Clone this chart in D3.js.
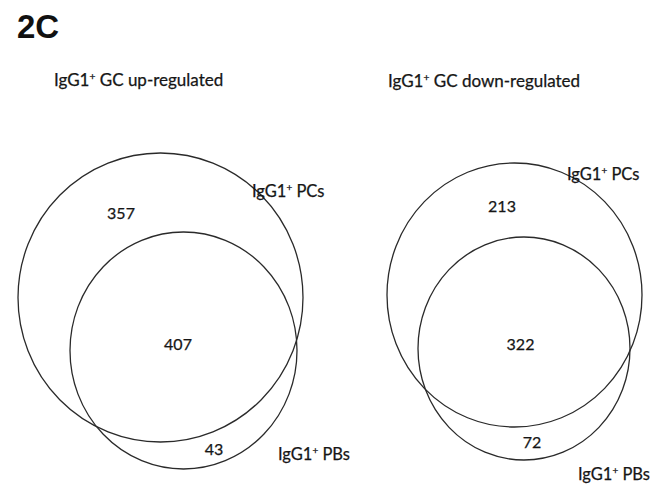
<!DOCTYPE html>
<html>
<head>
<meta charset="utf-8">
<script src="https://cdn.jsdelivr.net/npm/d3@7"></script>
<style>
  html, body { margin: 0; padding: 0; background: #fff; }
  svg { display: block; }
</style>
</head>
<body>
<svg id="chart" width="661" height="484"></svg>
<script>
// Venn counts: genes unique to PCs, shared, unique to PBs
const panels = ["up", "down"];
const panelTitles = ["GC up-regulated", "GC down-regulated"];
const onlyPCs = [357, 213];
const shared = [407, 322];
const onlyPBs = [43, 72];
const setNames = ["PCs", "PBs"];

// Diagram layout (pixels) for each panel
const layout = [
  {
    title: [54, 86],
    pc: { cx: 160.5, cy: 297.5, rx: 142.5, ry: 144.5 },
    pb: { cx: 183.5, cy: 350.5, rx: 113.5, ry: 118.5 },
    pcLabel: [252, 197], pbLabel: [278, 460],
    onlyPC: [121, 219], both: [178, 350], onlyPB: [214, 455]
  },
  {
    title: [388, 87],
    pc: { cx: 514.5, cy: 295, rx: 127.5, ry: 132 },
    pb: { cx: 524, cy: 348.5, rx: 106, ry: 111.5 },
    pcLabel: [567, 180], pbLabel: [578, 480],
    onlyPC: [502, 212], both: [520.5, 350], onlyPB: [532, 448]
  }
];

const svg = d3.select("#chart");
const font = "Lato, 'Open Sans', sans-serif";
const ink = "#161616";

svg.append("text")
  .attr("x", 17).attr("y", 38)
  .attr("font-family", "'Liberation Sans', Arial, sans-serif")
  .attr("font-weight", "bold")
  .attr("font-size", 33)
  .attr("fill", "#111")
  .text("2C");

// "IgG1⁺ <rest>" with a raised plus sign
function igLabel(g, x, y, rest, size) {
  const t = g.append("text")
    .attr("x", x).attr("y", y)
    .attr("font-family", font)
    .attr("font-size", size)
    .attr("fill", ink)
    .attr("stroke", ink)
    .attr("stroke-width", 0.25);
  t.append("tspan").text("IgG1");
  t.append("tspan").attr("dy", -size * 0.35).attr("font-size", size * 0.6).text("+");
  t.append("tspan").attr("dy", size * 0.35).text(" " + rest);
  return t;
}

panels.forEach((p, i) => {
  const L = layout[i];
  const g = svg.append("g").attr("class", "panel-" + p);

  igLabel(g, L.title[0], L.title[1], panelTitles[i], 17);

  const sets = [L.pc, L.pb];
  g.selectAll("ellipse")
    .data(sets)
    .join("ellipse")
    .attr("cx", d => d.cx).attr("cy", d => d.cy)
    .attr("rx", d => d.rx).attr("ry", d => d.ry)
    .attr("fill", "none")
    .attr("stroke", "#2a2a2a")
    .attr("stroke-width", 1.3);

  igLabel(g, L.pcLabel[0], L.pcLabel[1], setNames[0], 16.5);
  igLabel(g, L.pbLabel[0], L.pbLabel[1], setNames[1], 16.5);

  const counts = [
    { v: onlyPCs[i], pos: L.onlyPC },
    { v: shared[i], pos: L.both },
    { v: onlyPBs[i], pos: L.onlyPB }
  ];
  g.selectAll("text.count")
    .data(counts)
    .join("text")
    .attr("class", "count")
    .attr("x", d => d.pos[0]).attr("y", d => d.pos[1])
    .attr("text-anchor", "middle")
    .attr("font-family", font)
    .attr("font-size", 16)
    .attr("fill", ink)
    .attr("stroke", ink)
    .attr("stroke-width", 0.25)
    .text(d => d.v);
});
</script>
</body>
</html>
